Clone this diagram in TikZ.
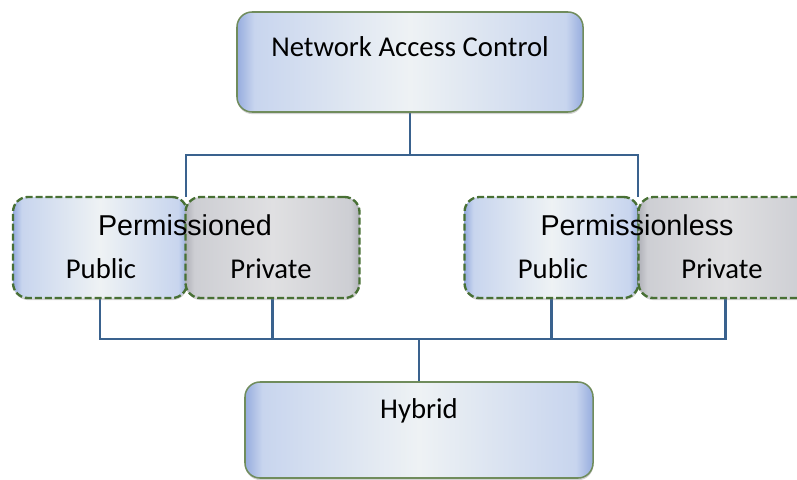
\documentclass[tikz,border=0pt]{standalone}
\usepackage{fontspec}
\setmainfont{Carlito}
\newfontfamily\arialfont{Liberation Sans}
\usetikzlibrary{shadows}
\definecolor{boxblue}{RGB}{150,172,222}
\definecolor{boxmid}{RGB}{200,213,238}
\definecolor{boxcore}{RGB}{238,242,244}
\definecolor{boxgrey}{RGB}{176,177,184}
\definecolor{greymid}{RGB}{205,206,211}
\definecolor{greycore}{RGB}{224,224,226}
\definecolor{rimgreen}{RGB}{112,140,92}
\definecolor{dashgreen}{RGB}{72,112,52}
\definecolor{linkblue}{RGB}{58,98,142}
\pgfdeclarehorizontalshading{bluebar}{100bp}{color(0bp)=(boxblue); color(25bp)=(boxblue); color(27.5bp)=(boxmid); color(50bp)=(boxcore); color(72.5bp)=(boxmid); color(75bp)=(boxblue); color(100bp)=(boxblue)}
\pgfdeclarehorizontalshading{greybar}{100bp}{color(0bp)=(boxgrey); color(25bp)=(boxgrey); color(27.5bp)=(greymid); color(50bp)=(greycore); color(72.5bp)=(greymid); color(75bp)=(boxgrey); color(100bp)=(boxgrey)}

\begin{document}
\begin{tikzpicture}[x=0.03cm,y=-0.03cm,font=\fontsize{24.5}{29}\selectfont,
		box/.style={rectangle,rounded corners=0.45cm,inner sep=0pt,outer sep=0pt,
			shading=bluebar,
			drop shadow={opacity=0.35,shadow xshift=0.3pt,shadow yshift=-1.8pt}},
		solidbox/.style={box,draw=rimgreen,line width=1.3pt},
		halfbox/.style={box,draw=dashgreen,line width=2pt,dash pattern=on 6pt off 2.5pt,
			minimum width=5.22cm,minimum height=3.03cm},
		greybox/.style={halfbox,shading=greybar},
		conn/.style={draw=linkblue,line width=2pt},
		lbl/.style={anchor=base,inner sep=0pt}]
			\clip (0,0) rectangle (797,479);
			% links first, boxes go over them
			\coordinate (split) at (410,155);
			\coordinate (merge) at (419,339);
			\draw[conn] (410,112) -- (split);
			\draw[conn] (split) -| (186,197);
			\draw[conn] (split) -| (638,197);
			\draw[conn] (100,298) |- (merge);
			\draw[conn] (272.5,298) |- (merge);
			\draw[conn] (551.5,298) |- (merge);
			\draw[conn] (725.5,298) |- (merge);
			\draw[conn] (merge) -- (419,382);
			% boxes
			\node[solidbox,minimum width=10.38cm,minimum height=3cm] (nac) at (410,62) {};
			\node[halfbox] (pdpub) at (100,247.5) {};
			\node[greybox] (pdpriv) at (272.5,247.5) {};
			\node[halfbox] (plpub) at (551.5,247.5) {};
			\node[greybox] (plpriv) at (725.5,247.5) {};
			\node[solidbox,minimum width=10.44cm,minimum height=2.88cm] (hyb) at (419,430) {};
			% texts
			\node[lbl] (nactxt) at (410,57) {Network Access Control};
			\node[lbl,font=\arialfont\fontsize{24.5}{29}\selectfont] (pdtxt) at (185,235) {Permissioned};
			\node[lbl] (pdpubtxt) at (101,278) {Public};
			\node[lbl] (pdprivtxt) at (271,278) {Private};
			\node[lbl,font=\arialfont\fontsize{24.5}{29}\selectfont] (pltxt) at (637,235) {Permissionless};
			\node[lbl] (plpubtxt) at (553,278) {Public};
			\node[lbl] (plprivtxt) at (722,278) {Private};
			\node[lbl] (hybtxt) at (419,418) {Hybrid};
	\end{tikzpicture}
\end{document}
